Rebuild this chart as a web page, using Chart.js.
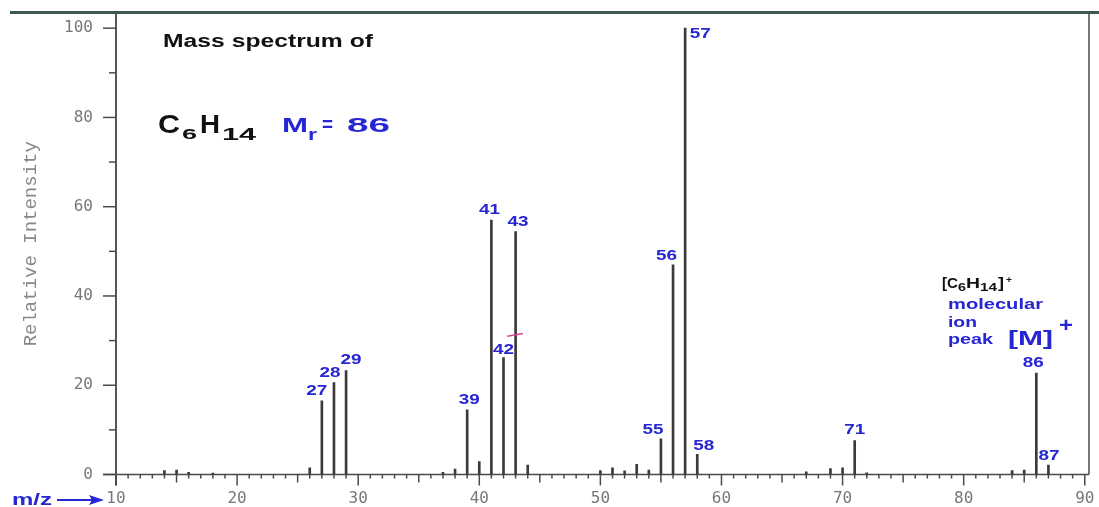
<!DOCTYPE html>
<html>
<head>
<meta charset="utf-8">
<script src="https://cdn.jsdelivr.net/npm/chart.js@4.4.1/dist/chart.umd.min.js"></script>
<style>
  html, body { margin: 0; padding: 0; background: #fff; }
  #wrap { width: 1099px; height: 507px; position: relative; }
</style>
</head>
<body>
<div id="wrap"><canvas id="ms"></canvas></div>
<script>
// hexane mass spectrum
const mz = [14, 15, 16, 18, 26, 27, 28, 29, 37, 38, 39, 40, 41, 42, 43, 44, 50, 51, 52, 53, 54, 55, 56, 57, 58, 67, 69, 70, 71, 72, 84, 85, 86, 87]
const intensity = [0.9, 1.0, 0.5, 0.3, 1.5, 16.5, 20.6, 23.3, 0.5, 1.2, 14.5, 2.9, 57.0, 26.2, 54.4, 2.1, 0.9, 1.5, 0.8, 2.3, 1.0, 8.0, 47.0, 100, 4.5, 0.6, 1.3, 1.5, 7.6, 0.4, 0.9, 1.0, 22.7, 2.1]
const labelledPeaks = [27, 28, 29, 39, 41, 42, 43, 55, 56, 57, 58, 71, 86, 87]
const xTicks = [10, 20, 30, 40, 50, 60, 70, 80, 90]
const yTicks = [0, 20, 40, 60, 80, 100]

const BLUE = '#2626d2'
const AXIS = '#4a4a4a'
const SANS = '"Liberation Sans", Arial, sans-serif'

// label position relative to the top of the peak line
const labelOffset = {
  27: [-5, -10], 28: [-4, -9], 29: [5, -10], 39: [2, -10], 41: [-2, -10], 42: [0, -7],
  43: [2.5, -10], 55: [-8, -8.5], 56: [-6.5, -8.5], 57: [15, 6], 58: [6.5, -8.5],
  71: [0, -10], 86: [-3, -10], 87: [0.5, -9]
}

// the source picture is stretched sideways, so text is squeezed into a given width
function fitText(ctx, t, x0, x1, base, size, color) {
  ctx.save()
  ctx.font = 'bold ' + size + 'px ' + SANS
  ctx.fillStyle = color
  ctx.textBaseline = 'alphabetic'
  ctx.textAlign = 'left'
  const w = ctx.measureText(t).width
  ctx.translate(x0, base)
  ctx.scale((x1 - x0) / w, 1)
  ctx.fillText(t, 0, 0)
  ctx.restore()
}

function wideText(ctx, t, x, y, size, color) {
  ctx.save()
  ctx.font = 'bold ' + size + 'px ' + SANS
  ctx.fillStyle = color
  ctx.textBaseline = 'middle'
  ctx.textAlign = 'center'
  ctx.translate(x, y)
  ctx.scale(1.35, 1)
  ctx.fillText(t, 0, 0)
  ctx.restore()
}

const spectrumDecor = {
  id: 'spectrumDecor',
  beforeDatasetsDraw(chart) {
    const { ctx, chartArea: a, scales: { x, y } } = chart
    ctx.save()
    // top border
    ctx.strokeStyle = '#3d5a4c'
    ctx.lineWidth = 3
    ctx.beginPath(); ctx.moveTo(10, a.top - 0.5); ctx.lineTo(1099, a.top - 0.5); ctx.stroke()
    // right border
    ctx.strokeStyle = AXIS
    ctx.lineWidth = 1.5
    ctx.beginPath(); ctx.moveTo(a.right, a.top); ctx.lineTo(a.right, a.bottom); ctx.stroke()
    // baseline
    ctx.beginPath(); ctx.moveTo(a.left - 13, a.bottom); ctx.lineTo(a.right, a.bottom); ctx.stroke()
    // left axis
    ctx.lineWidth = 2
    ctx.strokeStyle = '#555'
    ctx.beginPath(); ctx.moveTo(a.left, a.top); ctx.lineTo(a.left, a.bottom + 11); ctx.stroke()
    // x tick marks
    ctx.lineWidth = 1.5
    ctx.strokeStyle = AXIS
    for (let m = 10; m <= 90; m++) {
      const px = x.getPixelForValue(m)
      const len = m % 10 === 0 ? 11 : m % 5 === 0 ? 8 : 4
      ctx.beginPath(); ctx.moveTo(px, a.bottom); ctx.lineTo(px, a.bottom + len); ctx.stroke()
    }
    // y tick marks
    for (let v = 0; v <= 100; v += 10) {
      const py = y.getPixelForValue(v)
      const len = v % 20 === 0 ? 13 : 7
      ctx.beginPath(); ctx.moveTo(a.left - len, py); ctx.lineTo(a.left, py); ctx.stroke()
    }
    ctx.restore()
  },
  afterDatasetsDraw(chart) {
    const { ctx, scales: { x, y } } = chart
    // peak numbers
    labelledPeaks.forEach(m => {
      const v = intensity[mz.indexOf(m)]
      const [dx, dy] = labelOffset[m]
      wideText(ctx, String(m), x.getPixelForValue(m) + dx, y.getPixelForValue(v) + dy, 14, BLUE)
    })
    // small pink mark near 42/43
    ctx.save()
    ctx.strokeStyle = '#e0409a'
    ctx.lineWidth = 1.5
    ctx.beginPath()
    ctx.moveTo(x.getPixelForValue(42.3), y.getPixelForValue(31.0))
    ctx.lineTo(x.getPixelForValue(43.6), y.getPixelForValue(31.6))
    ctx.stroke()
    ctx.restore()

    // title block
    fitText(ctx, 'Mass spectrum of', 163, 373, 46.5, 18, '#111')
    fitText(ctx, 'C', 158, 180, 133, 25, '#111')
    fitText(ctx, '6', 182, 197, 138.5, 14, '#111')
    fitText(ctx, 'H', 200, 220, 133, 25, '#111')
    fitText(ctx, '14', 222, 256, 140, 16, '#111')
    fitText(ctx, 'M', 282, 308, 132, 21, BLUE)
    fitText(ctx, 'r', 308, 317, 140, 16, BLUE)
    fitText(ctx, '=', 322, 333, 131, 21, BLUE)
    fitText(ctx, '86', 347, 390, 132, 21, BLUE)

    // molecular ion note
    fitText(ctx, '[C', 942, 958, 288, 14, '#111')
    fitText(ctx, '6', 958, 966, 291, 10, '#111')
    fitText(ctx, 'H', 966, 980, 288, 14, '#111')
    fitText(ctx, '14', 980, 997, 291, 10, '#111')
    fitText(ctx, ']', 998, 1004, 288, 14, '#111')
    fitText(ctx, '+', 1006, 1012, 283, 9, '#111')
    fitText(ctx, 'molecular', 948, 1043, 308.5, 15, BLUE)
    fitText(ctx, 'ion', 948, 977, 327, 15, BLUE)
    fitText(ctx, 'peak', 948, 993, 344, 15, BLUE)
    fitText(ctx, '[M]', 1008, 1053, 345, 21, BLUE)
    fitText(ctx, '+', 1059, 1073, 332, 20, BLUE)

    // m/z arrow
    fitText(ctx, 'm/z', 12, 52, 505, 16, BLUE)
    ctx.save()
    ctx.strokeStyle = BLUE
    ctx.fillStyle = BLUE
    ctx.lineWidth = 2
    ctx.beginPath(); ctx.moveTo(57, 500); ctx.lineTo(92, 500); ctx.stroke()
    ctx.beginPath(); ctx.moveTo(104, 500); ctx.lineTo(89, 495); ctx.lineTo(92, 500); ctx.lineTo(89, 505); ctx.closePath(); ctx.fill()
    ctx.restore()
  }
}

new Chart(document.getElementById('ms'), {
  type: 'bar',
  data: {
    datasets: [{
      data: mz.map((m, i) => ({ x: m, y: intensity[i] })),
      backgroundColor: '#3a3a3a',
      borderWidth: 0,
      barThickness: 2
    }]
  },
  options: {
    responsive: true,
    maintainAspectRatio: false,
    animation: false,
    layout: { padding: { top: 13, right: 10, left: 0, bottom: 0 } },
    plugins: { legend: { display: false }, tooltip: { enabled: false } },
    scales: {
      x: {
        type: 'linear',
        min: 10,
        max: 90.35,
        offset: false,
        grid: { display: false, drawTicks: false, offset: false },
        border: { display: false },
        afterBuildTicks: s => { s.ticks = xTicks.map(v => ({ value: v })) },
        afterFit: s => { s.height = 32.5; s.paddingLeft = 0; s.paddingRight = 0 },
        ticks: { padding: 15, maxRotation: 0, color: '#777', font: { family: '"DejaVu Sans Mono", monospace', size: 16 } }
      },
      y: {
        min: 0,
        max: 103.4,
        grid: { display: false, drawTicks: false },
        border: { display: false },
        afterBuildTicks: s => { s.ticks = yTicks.map(v => ({ value: v })) },
        afterFit: s => { s.width = 116; s.paddingTop = 0; s.paddingBottom = 0 },
        ticks: { padding: 23, color: '#777', font: { family: '"DejaVu Sans Mono", monospace', size: 16 } },
        title: {
          display: true,
          text: 'Relative Intensity',
          color: '#888',
          padding: { top: 20, bottom: 0 },
          font: { family: '"Liberation Mono", monospace', size: 19 }
        }
      }
    }
  },
  plugins: [spectrumDecor]
})
</script>
</body>
</html>
